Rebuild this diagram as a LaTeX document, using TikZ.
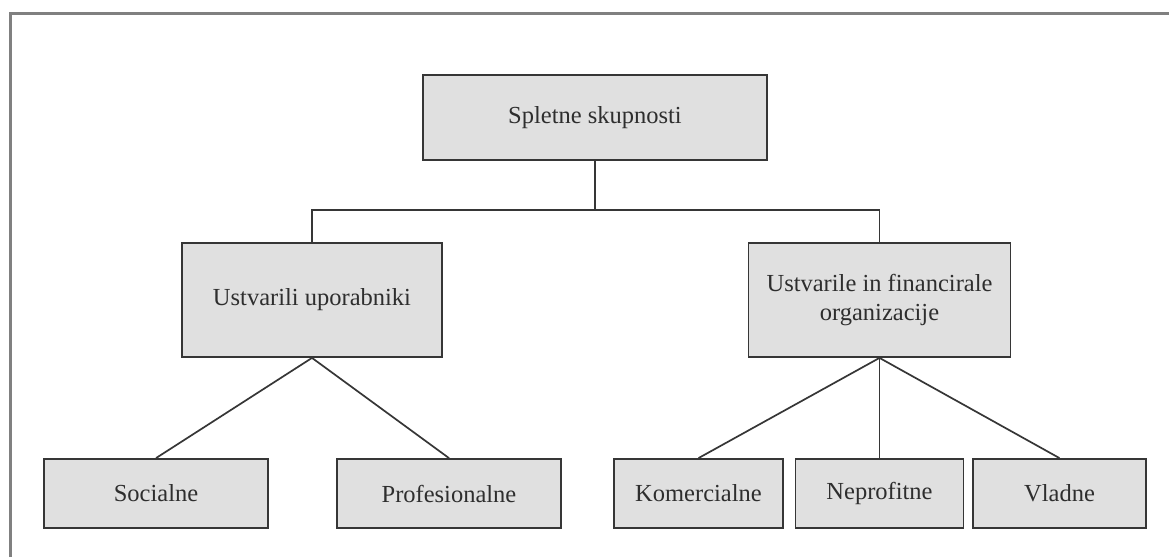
\documentclass[tikz,border=0pt]{standalone}
\usepackage{fontspec}
\setmainfont{Liberation Serif}
\definecolor{boxfill}{HTML}{E0E0E0}
\definecolor{boxline}{HTML}{363636}
\definecolor{txt}{HTML}{2E2E2E}
\definecolor{frame}{HTML}{808080}
\begin{document}
\begin{tikzpicture}[x=1pt,y=-1pt,
  box/.style={draw=boxline, fill=boxfill, line width=1.8pt, text=txt,
    font=\fontsize{24.5}{29}\selectfont, align=center, inner sep=0pt, anchor=center},
  conn/.style={draw=boxline, line width=1.7pt}]
\useasboundingbox (0,0) rectangle (1169,557);
\fill[white] (0,0) rectangle (1169,557);
\draw[frame, line width=3pt] (10.5,557) -- (10.5,13) -- (1169,13);
\node[box, minimum width=344pt, minimum height=85pt] (top) at (595,117.5) {Spletne skupnosti};
\node[box, minimum width=260pt, minimum height=114pt] (left) at (312,300) {Ustvarili uporabniki};
\node[box, minimum width=262pt, minimum height=114pt] (right) at (879.5,300) {Ustvarile in financirale\\organizacije};
\node[box, minimum width=224pt, minimum height=69pt] (soc) at (156,493.5) {Socialne};
\node[box, minimum width=224pt, minimum height=69pt] (prof) at (449,493.5) {Profesionalne};
\node[box, minimum width=169pt, minimum height=69pt] (kom) at (698.5,493.5) {Komercialne};
\node[box, minimum width=168pt, minimum height=69pt] (nep) at (879.5,493.5) {Neprofitne};
\node[box, minimum width=173pt, minimum height=69pt] (vla) at (1059.5,493.5) {Vladne};
\coordinate (bus) at (595,210);
\draw[conn] (top.south) -- (bus);
\draw[conn] (left.north) |- (bus) -| (right.north);
\draw[conn] (left.south) -- (soc.north);
\draw[conn] (left.south) -- (prof.north);
\draw[conn] (right.south) -- (kom.north);
\draw[conn] (right.south) -- (nep.north);
\draw[conn] (right.south) -- (vla.north);
\end{tikzpicture}
\end{document}
